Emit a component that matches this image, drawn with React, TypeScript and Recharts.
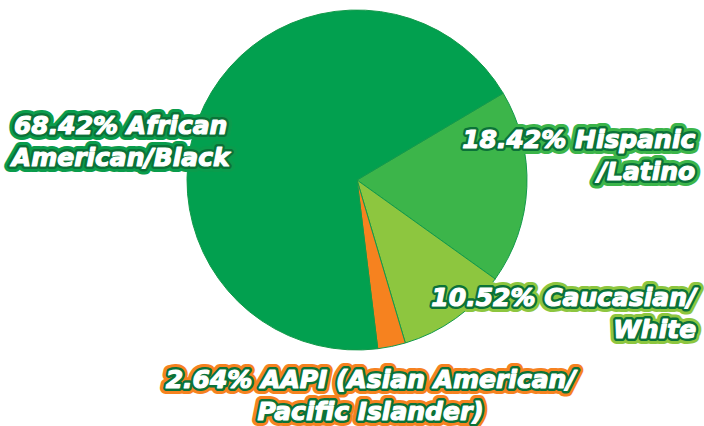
import React from 'react';
import { PieChart, Pie, Cell } from 'recharts';

const groups = ['Hispanic/Latino', 'Caucasian/White', 'AAPI', 'African American/Black'];
const shares = [18.42, 10.52, 2.64, 68.42];
const labelLines = [
  ['18.42% Hispanic', '/Latino'],
  ['10.52% Caucasian/', 'White'],
  ['2.64% AAPI (Asian American/', 'Pacific Islander)'],
  ['68.42% African', 'American/Black'],
];
const sliceColors = ['#3cb54a', '#8dc63f', '#f6821f', '#02a04f'];
const glowColors = ['#3cb54a', '#8dc63f', '#f6821f', '#0a9c4c'];
// label layout relative to pie centre, in units of the outer radius
const labelLayout = [
  { anchor: 'end', dx: 1.99, dy: [-0.24, -0.05] },
  { anchor: 'end', dx: 1.995, dy: [0.69, 0.88] },
  { anchor: 'middle', dx: 0.08, dy: [1.175, 1.36] },
  { anchor: 'middle', dx: -1.39, dy: [-0.32, -0.13] },
];

const data = groups.map((g, i) => ({ name: g, value: shares[i] }));

const fontProps = {
  fontFamily: '"DejaVu Sans", sans-serif',
  fontWeight: 700,
  fontStyle: 'italic' as const,
  fontSize: 25,
};

const renderLabel = (props: any) => {
  const { cx, cy, outerRadius, index } = props;
  const lay = labelLayout[index];
  const x = cx + lay.dx * outerRadius;
  return (
    <g key={`lbl-${index}`}>
      {labelLines[index].map((line, li) => {
        const y = cy + lay.dy[li] * outerRadius;
        const common = {
          x,
          y,
          textAnchor: lay.anchor,
          dominantBaseline: 'central',
          ...fontProps,
        } as any;
        return (
          <g key={li}>
            <text {...common} fill={glowColors[index]} stroke={glowColors[index]} strokeWidth={12} strokeLinejoin="round">{line}</text>
            <text {...common} fill="#0b7238" stroke="#0b7238" strokeWidth={6} strokeLinejoin="round">{line}</text>
            <text {...common} fill="#ffffff" stroke="#ffffff" strokeWidth={1.2} strokeLinejoin="round">{line}</text>
          </g>
        );
      })}
    </g>
  );
};

export default function App() {
  return (
    <div style={{ position: 'absolute', left: 0, top: 0, width: 704, height: 426, background: '#ffffff' }}>
      <PieChart width={704} height={426} margin={{ top: 0, right: 0, bottom: 0, left: 0 }}>
        <Pie
          data={data}
          dataKey="value"
          nameKey="name"
          cx={357}
          cy={180}
          outerRadius={170}
          startAngle={30.7}
          endAngle={30.7 - 360}
          isAnimationActive={false}
          labelLine={false}
          label={renderLabel}
          stroke="#139a4a"
          strokeWidth={1}
        >
          {data.map((d, i) => (
            <Cell key={d.name} fill={sliceColors[i]} />
          ))}
        </Pie>
      </PieChart>
    </div>
  );
}
